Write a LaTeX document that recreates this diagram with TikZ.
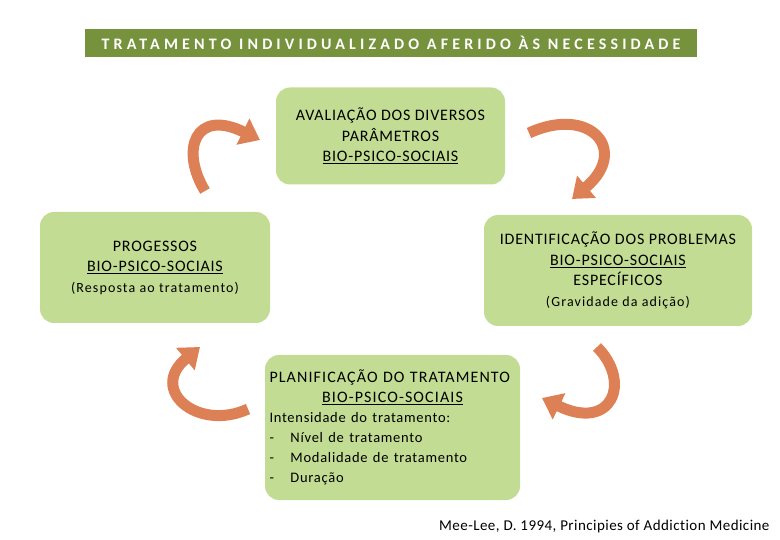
\documentclass[tikz,border=0pt]{standalone}
\usepackage{fontspec}
\setmainfont{Carlito}[Ligatures=CommonOff]
\usetikzlibrary{arrows.meta}
\definecolor{barGreen}{HTML}{76923C}
\definecolor{boxGreen}{HTML}{C2DC93}
\definecolor{arrowOrange}{HTML}{DE8056}

\begin{document}
\begin{tikzpicture}[x=1pt, y=-1pt,
    stage/.style={fill=boxGreen, rounded corners=14pt, align=center, inner sep=0pt,
      font=\fontsize{16}{20.5}\selectfont\addfontfeature{LetterSpace=5}},
    cycle/.style={draw=arrowOrange, line width=11pt, -{Triangle[length=19pt, width=28pt]}}]
  \useasboundingbox (0,0) rectangle (780,540);

  % title bar
  \fill[barGreen] (85,29) rectangle (697,57);
  \node[white, font=\bfseries\fontsize{16}{18}\selectfont\addfontfeature{LetterSpace=26}] (titulo) at (391,43)
    {TRATAMENTO INDIVIDUALIZADO AFERIDO ÀS NECESSIDADE};

  % the four stages
  \node[stage, minimum width=229pt, minimum height=97pt] (avaliacao) at (390.5,136)
    {AVALIAÇÃO DOS DIVERSOS\\ PARÂMETROS\\ \underline{BIO-PSICO-SOCIAIS}};
  \node[stage, minimum width=268pt, minimum height=111pt] (identificacao) at (618,270.5)
    {IDENTIFICAÇÃO DOS PROBLEMAS\\ \underline{BIO-PSICO-SOCIAIS}\\ ESPECÍFICOS\\
     {\fontsize{14}{21}\selectfont\addfontfeature{LetterSpace=8}(Gravidade da adição)}};
  \node[stage, minimum width=255pt, minimum height=145pt, text width=246pt, align=left,
        font=\fontsize{16}{20}\selectfont\addfontfeature{LetterSpace=7}] (planificacao) at (392.5,427.5)
    {PLANIFICAÇÃO DO TRATAMENTO\\
     \makebox[246pt]{\underline{BIO-PSICO-SOCIAIS}}\\
     {\fontsize{14.5}{20}\selectfont\addfontfeature{LetterSpace=5}Intensidade do tratamento:}\\
     {\fontsize{14.5}{20}\selectfont\addfontfeature{LetterSpace=5}\makebox[21pt][l]{-}Nível de tratamento}\\
     {\fontsize{14.5}{20}\selectfont\addfontfeature{LetterSpace=5}\makebox[21pt][l]{-}Modalidade de tratamento}\\
     {\fontsize{14.5}{20}\selectfont\addfontfeature{LetterSpace=5}\makebox[21pt][l]{-}Duração}};
  \node[stage, minimum width=230pt, minimum height=111pt] (progressos) at (155,267.5)
    {PROGESSOS\\ \underline{BIO-PSICO-SOCIAIS}\\
     {\fontsize{14}{22}\selectfont\addfontfeature{LetterSpace=8}(Resposta ao tratamento)}};

  % curved arrows between the stages
  \coordinate (tl0) at (205,191);  \coordinate (tl1) at (260,140);
  \coordinate (tr0) at (529,133);  \coordinate (tr1) at (572,199);
  \coordinate (br0) at (597,347);  \coordinate (br1) at (542,398);
  \coordinate (bl0) at (248,409);  \coordinate (bl1) at (200,347);
  \draw[cycle] (tl0) .. controls (180,150) and (195,108) .. (tl1);
  \draw[cycle] (tr0) .. controls (590,105) and (630,150) .. (tr1);
  \draw[cycle] (br0) .. controls (632,382) and (612,432) .. (br1);
  \draw[cycle] (bl0) .. controls (198,432) and (148,390) .. (bl1);

  \node[anchor=east, font=\fontsize{15}{17}\selectfont\addfontfeature{LetterSpace=3}] (fonte) at (773,526)
    {Mee-Lee, D. 1994, Principies of Addiction Medicine};
\end{tikzpicture}
\end{document}
